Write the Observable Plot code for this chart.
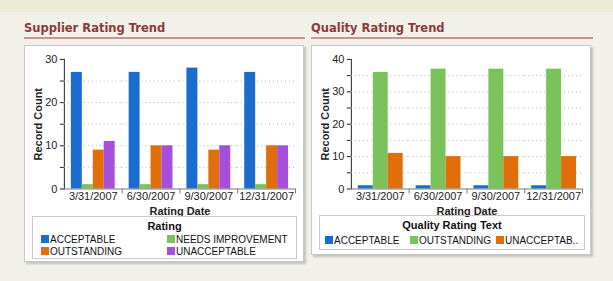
<!DOCTYPE html>
<html>
<head>
<meta charset="utf-8">
<script src="https://cdn.jsdelivr.net/npm/d3@7"></script>
<script src="https://cdn.jsdelivr.net/npm/@observablehq/plot@0.6"></script>
<style>
  html, body { margin: 0; padding: 0; }
  body { width: 613px; height: 281px; background: #f1f0e9; position: relative; overflow: hidden; font-family: "Liberation Sans", Arial, sans-serif; }
  .band { position: absolute; left: 0; top: 0; width: 613px; height: 12px; background: #ecebd6; }
  .title { position: absolute; top: 21px; font-family: "DejaVu Sans", Verdana, sans-serif; font-weight: bold; font-size: 11.5px; color: #8b3b3b; white-space: nowrap; }
  .rule { position: absolute; top: 37px; height: 2px; background: #c99494; }
  .box { position: absolute; top: 45px; background: #fff; border: 1px solid #c9c9c9; box-shadow: 2px 2px 2px #c4c3bc; box-sizing: border-box; }
  .box svg { position: absolute; left: 0; top: 0; }
  .box svg [aria-label$="-axis label"] { font-weight: bold; }
  .legend { position: absolute; border: 1px solid #c9c9c9; box-sizing: border-box; font-size: 10px; color: #111; }
  .legend .lt { position: absolute; left: 0; right: 0; top: 3px; text-align: center; font-weight: bold; font-size: 11px; }
  .legend .it { position: absolute; white-space: nowrap; }
  .legend .sw { display: inline-block; width: 8px; height: 8px; margin-right: 1px; vertical-align: 0px; }
</style>
</head>
<body>
<div class="band"></div>
<div id="root"></div>
<script>
// ---- data ----
const dates = ["3/31/2007", "6/30/2007", "9/30/2007", "12/31/2007"];

const supplierTitle = "Supplier Rating Trend";
const supplierLegendTitle = "Rating";
const supplierRatings = ["ACCEPTABLE", "NEEDS IMPROVEMENT", "OUTSTANDING", "UNACCEPTABLE"];
const supplierLegendLabels = ["ACCEPTABLE", "NEEDS IMPROVEMENT", "OUTSTANDING", "UNACCEPTABLE"];
const supplierColors = ["#1a6dcd", "#7ac35a", "#e06e0a", "#a64fdc"];
const supplierAcceptable = [27, 27, 28, 27];
const supplierNeedsImprovement = [1, 1, 1, 1];
const supplierOutstanding = [9, 10, 9, 10];
const supplierUnacceptable = [11, 10, 10, 10];

const qualityTitle = "Quality Rating Trend";
const qualityLegendTitle = "Quality Rating Text";
const qualityRatings = ["ACCEPTABLE", "OUTSTANDING", "UNACCEPTABLE"];
const qualityLegendLabels = ["ACCEPTABLE", "OUTSTANDING", "UNACCEPTAB.."];
const qualityColors = ["#1a6dcd", "#7ac35a", "#e06e0a"];
const qualityAcceptable = [1, 1, 1, 1];
const qualityOutstanding = [36, 37, 37, 37];
const qualityUnacceptable = [11, 10, 10, 10];

const xLabel = "Rating Date";
const yLabel = "Record Count";

// ---- build tables ----
function table(series, values) {
  const rows = [];
  dates.forEach((date, i) => series.forEach((s, j) => rows.push({date, rating: s, count: values[j][i]})));
  return rows;
}
const supplierData = table(supplierRatings, [supplierAcceptable, supplierNeedsImprovement, supplierOutstanding, supplierUnacceptable]);
const qualityData = table(qualityRatings, [qualityAcceptable, qualityOutstanding, qualityUnacceptable]);

function chart({data, series, colors, yMax, paddingOuter, height}) {
  return Plot.plot({
    width: 279,
    height,
    marginTop: 13,
    marginBottom: 27,
    marginLeft: 38,
    marginRight: 7,
    style: {fontFamily: "'Liberation Sans', Arial, sans-serif", fontSize: "11px", color: "#222", background: "transparent", overflow: "visible"},
    fx: {domain: dates, padding: 0, label: xLabel, labelAnchor: "center", tickSize: 0, tickPadding: 3, labelOffset: 26, labelArrow: "none"},
    x: {domain: series, axis: null, paddingInner: 0, paddingOuter},
    y: {domain: [0, yMax], ticks: d3.range(0, yMax + 1, 5), tickFormat: d => d % 10 ? "" : d, label: yLabel, labelAnchor: "center", labelArrow: "none", tickSize: 4, tickPadding: 3, line: true, labelOffset: 30},
    color: {domain: series, range: colors},
    marks: [
      Plot.gridY(d3.range(5, yMax, 5), {stroke: "#b5b5b5", strokeOpacity: 1, strokeDasharray: "1,3"}),
      Plot.barY(data, {fx: "date", x: "rating", y: "count", fill: "rating"}),
      Plot.ruleY([0], {stroke: "#777"}),
      Plot.frame({anchor: "right", stroke: "#777", insetTop: height - 40, insetBottom: -4})
    ]
  });
}

function panel({left, title, ruleWidth, boxWidth, boxHeight, svg, legendTitle, labels, colors, legendTop, legendHeight, legendWidth, positions}) {
  const root = document.getElementById("root");
  const t = document.createElement("div");
  t.className = "title"; t.style.left = left + "px"; t.textContent = title;
  root.appendChild(t);
  const r = document.createElement("div");
  r.className = "rule"; r.style.left = left + "px"; r.style.width = ruleWidth + "px";
  root.appendChild(r);
  const b = document.createElement("div");
  b.className = "box"; b.style.left = left + "px"; b.style.width = boxWidth + "px"; b.style.height = boxHeight + "px";
  b.appendChild(svg);
  const lg = document.createElement("div");
  lg.className = "legend";
  lg.style.left = "7px"; lg.style.top = legendTop + "px"; lg.style.width = legendWidth + "px"; lg.style.height = legendHeight + "px";
  const lt = document.createElement("div");
  lt.className = "lt"; lt.textContent = legendTitle;
  lg.appendChild(lt);
  labels.forEach((lab, i) => {
    const it = document.createElement("div");
    it.className = "it";
    it.style.left = positions[i][0] + "px"; it.style.top = positions[i][1] + "px";
    const sw = document.createElement("span");
    sw.className = "sw"; sw.style.background = colors[i];
    it.appendChild(sw);
    it.appendChild(document.createTextNode(lab));
    lg.appendChild(it);
  });
  b.appendChild(lg);
  root.appendChild(b);
}

panel({
  left: 24, title: supplierTitle, ruleWidth: 281, boxWidth: 280, boxHeight: 217,
  svg: chart({data: supplierData, series: supplierRatings, colors: supplierColors, yMax: 30, paddingOuter: 0.5, height: 170}),
  legendTitle: supplierLegendTitle, labels: supplierLegendLabels, colors: supplierColors,
  legendTop: 170, legendHeight: 43, legendWidth: 265,
  positions: [[8, 17], [134, 17], [8, 29], [134, 29]]
});
panel({
  left: 311, title: qualityTitle, ruleWidth: 282, boxWidth: 280, boxHeight: 210,
  svg: chart({data: qualityData, series: qualityRatings, colors: qualityColors, yMax: 40, paddingOuter: 0.38, height: 170}),
  legendTitle: qualityLegendTitle, labels: qualityLegendLabels, colors: qualityColors,
  legendTop: 169, legendHeight: 35, legendWidth: 266,
  positions: [[5, 19], [90, 19], [176, 19]]
});
</script>
</body>
</html>
